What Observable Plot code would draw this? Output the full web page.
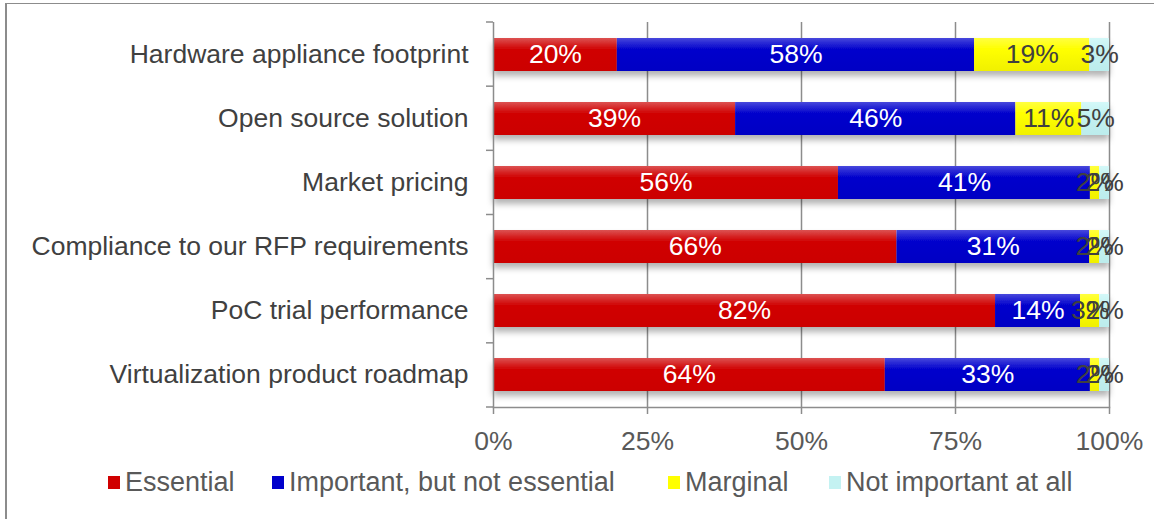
<!DOCTYPE html>
<html><head><meta charset="utf-8">
<script src="https://cdn.jsdelivr.net/npm/d3@7"></script>
<script src="https://cdn.jsdelivr.net/npm/@observablehq/plot@0.6"></script>
<style>
body{margin:0;background:#fff;font-family:"Liberation Sans",Arial,sans-serif;}
#frame{position:absolute;left:5px;top:3px;width:1149px;height:516px;border-left:2px solid #8c8c8c;border-top:1px solid #8c8c8c;}
#chart{position:absolute;left:0;top:0;}
#legend{position:absolute;top:467px;left:0;width:1154px;height:30px;font-size:27px;line-height:30px;color:#595959;white-space:nowrap;}
#legend .it{position:absolute;top:0;display:flex;align-items:center;}
#legend .sw{width:12px;height:13px;margin-right:5px;}
</style></head>
<body>
<svg width="0" height="0" style="position:absolute">
<defs>
<linearGradient id="gEss" x1="0" y1="0" x2="0" y2="1"><stop offset="0" stop-color="#dc5252"/><stop offset="0.35" stop-color="#d00000"/><stop offset="1" stop-color="#cc0000"/></linearGradient>
<linearGradient id="gImp" x1="0" y1="0" x2="0" y2="1"><stop offset="0" stop-color="#4848dc"/><stop offset="0.35" stop-color="#0000cc"/><stop offset="1" stop-color="#0000c4"/></linearGradient>
<linearGradient id="gMar" x1="0" y1="0" x2="0" y2="1"><stop offset="0" stop-color="#ffff40"/><stop offset="0.35" stop-color="#ffff00"/><stop offset="1" stop-color="#f0f000"/></linearGradient>
<linearGradient id="gNot" x1="0" y1="0" x2="0" y2="1"><stop offset="0" stop-color="#d4f8f8"/><stop offset="0.35" stop-color="#c4f2f2"/><stop offset="1" stop-color="#bcecec"/></linearGradient>
<filter id="shadow" x="-5%" y="-30%" width="110%" height="180%"><feDropShadow dx="0" dy="5" stdDeviation="3" flood-color="#000" flood-opacity="0.3"/></filter>
</defs>
</svg>
<div id="frame"></div>
<div id="chart"></div>
<div id="legend"></div>
<script>
const categories = ["Hardware appliance footprint","Open source solution","Market pricing","Compliance to our RFP requirements","PoC trial performance","Virtualization product roadmap"];
const seriesNames = ["Essential","Important, but not essential","Marginal","Not important at all"];
const essential = [20.1,39.3,56.0,65.5,81.5,63.6];
const important = [58.0,45.5,40.9,31.3,13.8,33.3];
const marginal = [18.7,10.7,1.5,1.6,3.1,1.5];
const notImportant = [3.2,4.5,1.6,1.6,1.6,1.6];
const xTicks = [0,0.25,0.5,0.75,1];

const seriesValues = [essential, important, marginal, notImportant];
const fills = ["url(#gEss)","url(#gImp)","url(#gMar)","url(#gNot)"];
const swatch = ["#d00000","#0000cc","#ffff00","#c4f2f2"];
const legendLeft = [108,272,668,829];
const rows = categories.flatMap((c,i)=>seriesNames.map((s,j)=>({cat:c, series:s, j, value:seriesValues[j][i]})));

const W=1154, H=460, mT=22, mB=53, mL=493, mR=45;
const gray="#8c8c8c";
const FS=26.5;
const pct = v => Math.round(v) + "%";

function bandTicks(index, scales, values, dims){
  const n=categories.length, top=dims.marginTop, bot=dims.height-dims.marginBottom, step=(bot-top)/n;
  const g=d3.create("svg:g");
  for(let k=0;k<=n;k++){
    g.append("line").attr("x1",dims.marginLeft-7).attr("x2",dims.marginLeft).attr("y1",top+k*step).attr("y2",top+k*step).attr("stroke",gray).attr("stroke-width",1.5);
  }
  return g.node();
}

const stackOpts = {offset:"normalize", x:"value", y:"cat", z:"series", order:seriesNames};
const plot = Plot.plot({
  width:W, height:H, marginTop:mT, marginBottom:mB, marginLeft:mL, marginRight:mR,
  style:{fontFamily:"Liberation Sans, Arial, sans-serif", fontSize:FS+"px", color:"#595959", background:"transparent", overflow:"visible"},
  x:{domain:[0,1]},
  y:{domain:categories, paddingInner:0.486, paddingOuter:0.243},
  color:{domain:seriesNames, range:fills},
  marks:[
    Plot.ruleX(xTicks.slice(1), {stroke:gray, strokeWidth:1.5}),
    Plot.barX(rows, Plot.stackX({...stackOpts, fill:"series"})),
    Plot.text(rows, Plot.stackX({...stackOpts, text:d=>d.j<2?pct(d.value):null, fill:"white", fontSize:FS})),
    Plot.text(rows, Plot.stackX({...stackOpts, text:d=>d.j>=2?pct(d.value):null, fill:"#404040", fontSize:FS})),
    Plot.ruleX([0], {stroke:gray, strokeWidth:1.5}),
    Plot.frame({anchor:"bottom", stroke:gray, strokeWidth:1.5}),
    bandTicks,
    Plot.axisX(xTicks, {tickSize:7, tickPadding:17, stroke:gray, strokeWidth:1.5, fill:"#595959", fontSize:FS, label:null, tickFormat:d3.format(".0%")}),
    Plot.axisY({tickSize:0, tickPadding:25, fill:"#404040", fontSize:FS, label:null})
  ]
});
document.getElementById("chart").appendChild(plot);
d3.select(plot).selectAll('g[aria-label="bar"]').attr("filter","url(#shadow)");

const lg=d3.select("#legend");
seriesNames.forEach((s,j)=>{
  const it=lg.append("div").attr("class","it").style("left",legendLeft[j]+"px");
  it.append("div").attr("class","sw").style("background",swatch[j]);
  it.append("span").text(s);
});
</script>
</body></html>
